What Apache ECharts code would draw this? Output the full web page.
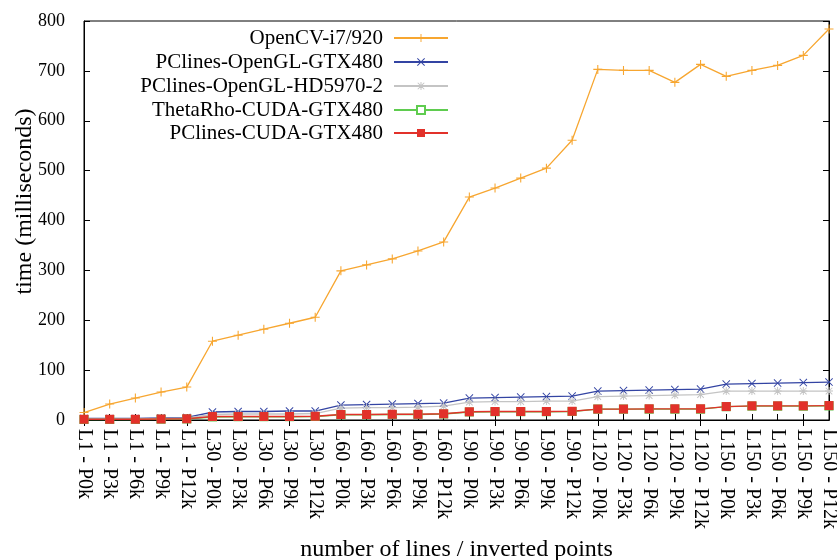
<!DOCTYPE html>
<html>
<head>
<meta charset="utf-8">
<script src="https://cdn.jsdelivr.net/npm/echarts@6/dist/echarts.min.js"></script>
<style>
  html, body { margin: 0; padding: 0; background: #fff; }
  #chart { width: 837px; height: 560px; }
</style>
</head>
<body>
<div id="chart"></div>
<script>
// Benchmark configurations: lines x inverted points
const categories = [
  'L1 - P0k', 'L1 - P3k', 'L1 - P6k', 'L1 - P9k', 'L1 - P12k',
  'L30 - P0k', 'L30 - P3k', 'L30 - P6k', 'L30 - P9k', 'L30 - P12k',
  'L60 - P0k', 'L60 - P3k', 'L60 - P6k', 'L60 - P9k', 'L60 - P12k',
  'L90 - P0k', 'L90 - P3k', 'L90 - P6k', 'L90 - P9k', 'L90 - P12k',
  'L120 - P0k', 'L120 - P3k', 'L120 - P6k', 'L120 - P9k', 'L120 - P12k',
  'L150 - P0k', 'L150 - P3k', 'L150 - P6k', 'L150 - P9k', 'L150 - P12k'
];

const opencvI7 = [15, 32, 44, 56, 66, 158, 170, 182, 194, 206, 299, 311, 323, 339, 357,
  447, 465, 485, 505, 561, 703, 701, 701, 677, 713, 689, 701, 711, 731, 784];
const pclinesGlGtx = [3, 3, 3, 4, 5, 16, 17, 17, 18, 18, 30, 31, 32, 33, 34,
  44, 45, 46, 47, 48, 58, 59, 60, 61, 62, 72, 73, 74, 75, 76];
const pclinesGlHd = [2, 2, 2, 3, 4, 11, 12, 12, 12, 13, 24, 25, 25, 26, 28,
  36, 37, 37, 38, 38, 47, 48, 49, 50, 51, 58, 58, 58, 58, 58];
const thetaRhoCuda = [1, 1, 1, 1.5, 2, 6, 6.5, 6.5, 6.5, 7, 10.5, 10.5, 11, 11, 12,
  16, 16.5, 16.5, 16.5, 17, 22, 22, 22, 22, 22, 27, 28, 28, 28, 28.5];
const pclinesCuda = [1.5, 1.5, 1.5, 2, 2.5, 7, 7, 7, 7, 7.5, 11, 11, 11.5, 11.5, 12.5,
  16.5, 17, 17, 17, 17.5, 22, 22, 22.5, 22.5, 22.5, 27, 28.5, 28.5, 28.5, 29];

const yTicks = { min: 0, max: 800, step: 100 };

const FONT = '"Liberation Serif", "DejaVu Serif", serif';

// Marker shapes drawn as filled paths
const PLUS = 'path://M4.4,0H5.6V10H4.4ZM0,4.4H10V5.6H0Z';
const CROSS = 'path://M1,0.2L5,4.2L9,0.2L9.8,1L5.8,5L9.8,9L9,9.8L5,5.8L1,9.8L0.2,9L4.2,5L0.2,1Z';
const STAR = 'path://M4.4,0H5.6V10H4.4ZM0,4.4H10V5.6H0ZM1.3,0.5L5,4.2L8.7,0.5L9.5,1.3L5.8,5L9.5,8.7L8.7,9.5L5,5.8L1.3,9.5L0.5,8.7L4.2,5L0.5,1.3Z';

const seriesDefs = [
  { name: 'OpenCV-i7/920', data: opencvI7, color: '#f7a630', symbol: PLUS, size: 9 },
  { name: 'PClines-OpenGL-GTX480', data: pclinesGlGtx, color: '#3344a3', symbol: CROSS, size: 8 },
  { name: 'PClines-OpenGL-HD5970-2', data: pclinesGlHd, color: '#c4c4c4', symbol: STAR, size: 8 },
  { name: 'ThetaRho-CUDA-GTX480', data: thetaRhoCuda, color: '#5fcc4f', symbol: 'rect', size: 8, hollow: true },
  { name: 'PClines-CUDA-GTX480', data: pclinesCuda, color: '#e2312a', symbol: 'rect', size: 9 }
];

const series = seriesDefs.map(d => ({
  name: d.name,
  type: 'line',
  data: d.data,
  symbol: d.symbol,
  symbolSize: d.size,
  showAllSymbol: true,
  lineStyle: { color: d.color, width: 1.3 },
  itemStyle: d.hollow
    ? { color: '#ffffff', borderColor: d.color, borderWidth: 1.2 }
    : { color: d.color, borderWidth: 0 },
  emphasis: { disabled: true },
  animation: false
}));

// One legend block per entry, all right-aligned at the same edge
const legendTops = [27.5, 51.5, 75.5, 99.5, 122.5];
const legends = seriesDefs.map((d, i) => ({
  data: [d.name],
  right: 388,
  top: legendTops[i],
  align: 'right',
  itemWidth: 54,
  itemHeight: 10,
  itemGap: 0,
  padding: 0,
  selectedMode: false,
  textStyle: { fontFamily: FONT, fontSize: 21, color: '#000', padding: [0, 6, 0, 0] }
}));

const chart = echarts.init(document.getElementById('chart'), null, { renderer: 'canvas' });
chart.setOption({
  backgroundColor: '#fff',
  animation: false,
  grid: {
    left: 84, right: 8, top: 21, bottom: 140,
    containLabel: false,
    outerBoundsMode: 'none',
    show: true, borderColor: '#000', borderWidth: 1, backgroundColor: 'transparent'
  },
  legend: legends,
  xAxis: [{
    type: 'category',
    data: categories,
    boundaryGap: false,
    axisLine: { lineStyle: { color: '#000', width: 1 } },
    axisTick: { inside: true, length: 6, alignWithLabel: true, lineStyle: { color: '#000' } },
    axisLabel: {
      rotate: -90, interval: 0, margin: 9,
      fontFamily: FONT, fontSize: 20, color: '#000'
    },
    splitLine: { show: false },
    name: 'number of lines / inverted points',
    nameLocation: 'middle',
    nameGap: 118,
    nameMoveOverlap: false,
    nameTextStyle: { fontFamily: FONT, fontSize: 24, color: '#000' }
  }, {
    type: 'category',
    data: categories,
    boundaryGap: false,
    position: 'top',
    axisLine: { lineStyle: { color: '#000' } },
    axisTick: { inside: true, length: 6, lineStyle: { color: '#000' } },
    axisLabel: { show: false },
    splitLine: { show: false }
  }],
  yAxis: [{
    type: 'value',
    min: yTicks.min, max: yTicks.max, interval: yTicks.step,
    axisLine: { show: true, lineStyle: { color: '#000' } },
    axisTick: { show: true, inside: true, length: 6, lineStyle: { color: '#000' } },
    axisLabel: { fontFamily: FONT, fontSize: 18, color: '#000', margin: 19 },
    splitLine: { show: false },
    name: 'time (milliseconds)',
    nameLocation: 'middle',
    nameGap: 47,
    nameMoveOverlap: false,
    nameTextStyle: { fontFamily: FONT, fontSize: 24, color: '#000', padding: [0, 0, 0, 38] }
  }, {
    type: 'value',
    position: 'right',
    min: yTicks.min, max: yTicks.max, interval: yTicks.step,
    axisLine: { show: true, lineStyle: { color: '#000' } },
    axisTick: { show: true, inside: true, length: 6, lineStyle: { color: '#000' } },
    axisLabel: { show: false },
    splitLine: { show: false }
  }],
  series: series
});
</script>
</body>
</html>
